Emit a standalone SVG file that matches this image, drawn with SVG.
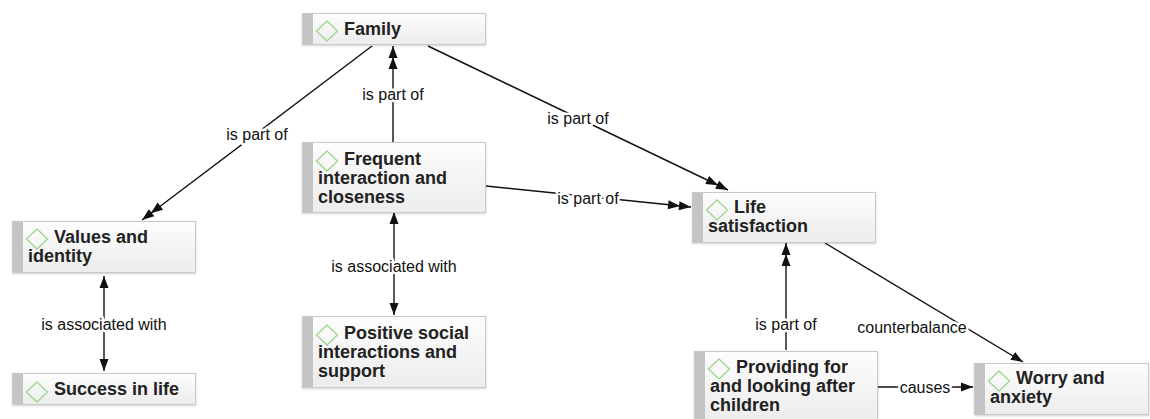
<svg xmlns="http://www.w3.org/2000/svg" width="1150" height="419" viewBox="0 0 1150 419">
  <defs>
    <linearGradient id="boxFill" x1="0" y1="0" x2="0" y2="1">
      <stop offset="0" stop-color="#fdfdfd"/>
      <stop offset="1" stop-color="#ececec"/>
    </linearGradient>
    <filter id="shadow" x="-5%" y="-10%" width="110%" height="130%">
      <feDropShadow dx="0" dy="1" stdDeviation="1.2" flood-color="#000" flood-opacity="0.18"/>
    </filter>
    <marker id="arrow" markerUnits="userSpaceOnUse" viewBox="0 -5 13 10" markerWidth="13" markerHeight="10" refX="12" refY="0" orient="auto-start-reverse">
      <path d="M0,-4.5 L12,0 L0,4.5 Z" fill="#111"/>
    </marker>
    <marker id="arrow2" markerUnits="userSpaceOnUse" viewBox="-12 -5 25 10" markerWidth="25" markerHeight="10" refX="12" refY="0" orient="auto">
      <path d="M0,-4.5 L12,0 L0,4.5 Z M-11,-4.5 L1,0 L-11,4.5 Z" fill="#111"/>
    </marker>
    <path id="dia" d="M0,-10 L10.5,0 L0,10 L-10.5,0 Z"/>
  </defs>
  <style>
    .box { fill: url(#boxFill); stroke: #c9c9c9; stroke-width: 1; filter: url(#shadow); }
    .bar { fill: #c4c4c4; }
    .dia { fill: none; stroke: #9ed68f; stroke-width: 1.3; }
    .nt { font-family: "Liberation Sans", Arial, Helvetica, sans-serif; font-weight: bold; font-size: 18px; fill: #222; }
    .edge { stroke: #111; stroke-width: 1.4; fill: none; }
    .part { marker-end: url(#arrow2); }
    .one { marker-end: url(#arrow); }
    .both { marker-start: url(#arrow); marker-end: url(#arrow); }
    .lbl { font-family: "Liberation Sans", Arial, Helvetica, sans-serif; font-size: 16px; fill: #111; text-anchor: middle; stroke: #fff; stroke-width: 5px; paint-order: stroke; stroke-linejoin: round; }
  </style>

  <g id="connectors">
    <line class="edge part" x1="372" y1="46" x2="142" y2="220"/>
    <line class="edge part" x1="393" y1="142" x2="393" y2="46"/>
    <line class="edge part" x1="428" y1="46" x2="728" y2="190"/>
    <line class="edge part" x1="486" y1="186" x2="691" y2="207"/>
    <line class="edge both" x1="104" y1="276" x2="104" y2="371"/>
    <line class="edge both" x1="394" y1="212" x2="394" y2="315"/>
    <line class="edge part" x1="786" y1="350" x2="786" y2="243"/>
    <line class="edge one" x1="825" y1="243" x2="1023" y2="362"/>
    <line class="edge one" x1="878" y1="387" x2="973" y2="387"/>
    <text class="lbl" x="257" y="140">is part of</text>
    <text class="lbl" x="393" y="100">is part of</text>
    <text class="lbl" x="578" y="124">is part of</text>
    <text class="lbl" x="588" y="204">is part of</text>
    <text class="lbl" x="104" y="330">is associated with</text>
    <text class="lbl" x="394" y="272">is associated with</text>
    <text class="lbl" x="786" y="330">is part of</text>
    <text class="lbl" x="912" y="333">counterbalance</text>
    <text class="lbl" x="925" y="393">causes</text>
  </g>

  <g id="family">
    <rect class="box" x="302.5" y="13.5" width="183" height="31"/>
    <rect class="bar" x="303" y="14" width="10" height="30"/>
    <use href="#dia" class="dia" x="327" y="31"/>
    <text class="nt" x="344" y="35">Family</text>
  </g>

  <g id="frequent">
    <rect class="box" x="302.5" y="142.5" width="183" height="70"/>
    <rect class="bar" x="303" y="143" width="10" height="69"/>
    <use href="#dia" class="dia" x="327" y="161"/>
    <text class="nt"><tspan x="344" y="165">Frequent</tspan><tspan x="318" y="184">interaction and</tspan><tspan x="318" y="203">closeness</tspan></text>
  </g>

  <g id="values">
    <rect class="box" x="12.5" y="221.5" width="183" height="51"/>
    <rect class="bar" x="13" y="222" width="10" height="50"/>
    <use href="#dia" class="dia" x="37" y="239"/>
    <text class="nt"><tspan x="54" y="243">Values and</tspan><tspan x="28" y="262">identity</tspan></text>
  </g>

  <g id="success">
    <rect class="box" x="12.5" y="373.5" width="183" height="31"/>
    <rect class="bar" x="13" y="374" width="10" height="30"/>
    <use href="#dia" class="dia" x="37" y="392"/>
    <text class="nt" x="54" y="395">Success in life</text>
  </g>

  <g id="positive">
    <rect class="box" x="302.5" y="316.5" width="183" height="71"/>
    <rect class="bar" x="303" y="317" width="10" height="70"/>
    <use href="#dia" class="dia" x="327" y="335"/>
    <text class="nt"><tspan x="344" y="339">Positive social</tspan><tspan x="318" y="358">interactions and</tspan><tspan x="318" y="377">support</tspan></text>
  </g>

  <g id="life">
    <rect class="box" x="692.5" y="192.5" width="183" height="50"/>
    <rect class="bar" x="693" y="193" width="10" height="49"/>
    <use href="#dia" class="dia" x="717" y="210"/>
    <text class="nt"><tspan x="734" y="213">Life</tspan><tspan x="708" y="232">satisfaction</tspan></text>
  </g>

  <g id="providing">
    <rect class="box" x="694.5" y="351.5" width="183" height="72"/>
    <rect class="bar" x="695" y="352" width="10" height="71"/>
    <use href="#dia" class="dia" x="719" y="369"/>
    <text class="nt"><tspan x="736" y="373">Providing for</tspan><tspan x="710" y="392">and looking after</tspan><tspan x="710" y="411">children</tspan></text>
  </g>

  <g id="worry">
    <rect class="box" x="974.5" y="363.5" width="174" height="51"/>
    <rect class="bar" x="975" y="364" width="10" height="50"/>
    <use href="#dia" class="dia" x="999" y="381"/>
    <text class="nt"><tspan x="1016" y="384">Worry and</tspan><tspan x="990" y="403">anxiety</tspan></text>
  </g>
</svg>
